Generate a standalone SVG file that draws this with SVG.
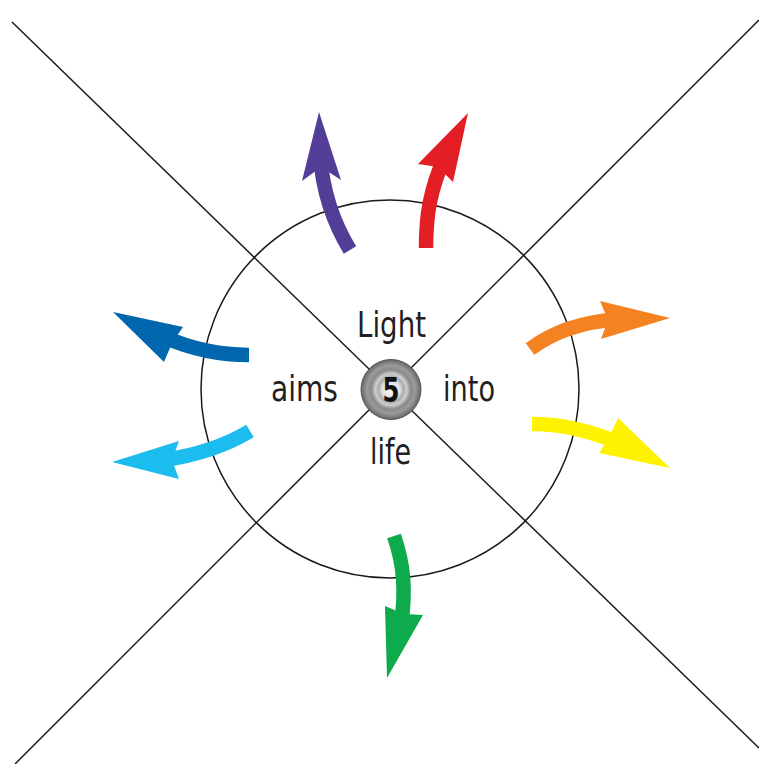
<svg xmlns="http://www.w3.org/2000/svg" width="759" height="764" viewBox="0 0 759 764">
<style>
.ln{stroke:#1a1a1a;stroke-width:1.5;fill:none}
.lbl{font-family:"Liberation Sans Narrow","DejaVu Sans Condensed","Liberation Sans",sans-serif;font-size:36px;fill:#231f20}
.shaft{fill:none;stroke-width:14.5;stroke-linecap:butt}
</style>
<defs>
<radialGradient id="ball" cx="0.5" cy="0.5" r="0.5">
<stop offset="0" stop-color="#ffffff"/>
<stop offset="0.3" stop-color="#e0e0e0"/>
<stop offset="0.42" stop-color="#aaaaaa"/>
<stop offset="0.52" stop-color="#cfcfcf"/>
<stop offset="0.66" stop-color="#8a8a8a"/>
<stop offset="0.8" stop-color="#9a9a9a"/>
<stop offset="1" stop-color="#666666"/>
</radialGradient>
</defs>
<rect width="759" height="764" fill="#ffffff"/>
<g id="connectors">
<line class="ln" x1="12" y1="22" x2="759" y2="748"/>
<line class="ln" x1="759" y1="20" x2="15" y2="764"/>
<circle class="ln" cx="390" cy="389" r="189"/>
</g>
<g id="arrow-purple">
<path class="shaft" stroke="#523d97" d="M350,250 C334,224 323,195 320,155"/>
<polygon fill="#523d97" points="319,112 341,180 321,167 302,181"/>
</g>
<g id="arrow-red">
<path class="shaft" stroke="#e31e24" d="M426,248 C426,215 430,190 445,156"/>
<polygon fill="#e31e24" points="468,113 453,182 438,167 418,164"/>
</g>
<g id="arrow-darkblue">
<path class="shaft" stroke="#0066ad" d="M249,355 C225,355 196,351 164,337"/>
<polygon fill="#0066ad" points="113,312 183,327 172,343 164,362"/>
</g>
<g id="arrow-lightblue">
<path class="shaft" stroke="#1cbcee" d="M250,431 C230,443 205,454 164,460"/>
<polygon fill="#1cbcee" points="112,462 179,441 172,460 179,479"/>
</g>
<g id="arrow-orange">
<path class="shaft" stroke="#f58220" d="M530,349 C552,333 578,322 620,319"/>
<polygon fill="#f58220" points="670,318 600,301 608,320 601,339"/>
</g>
<g id="arrow-yellow">
<path class="shaft" stroke="#fff200" d="M532,424 C560,424 590,430 624,445"/>
<polygon fill="#fff200" points="670,468 618,418 608,439 599,453"/>
</g>
<g id="arrow-green">
<path class="shaft" stroke="#0dab4b" d="M394,536 C404,565 406,590 401,626"/>
<polygon fill="#0dab4b" points="387,678 385,606 404,614 423,615"/>
</g>
<g id="center">
<circle cx="391" cy="389.5" r="30" fill="url(#ball)" stroke="#555" stroke-width="1"/>
<text x="391" y="402" text-anchor="middle" font-family="'Liberation Sans Narrow','DejaVu Sans Condensed','Liberation Sans',sans-serif" font-weight="bold" font-size="34" fill="#111" textLength="17" lengthAdjust="spacingAndGlyphs">5</text>
</g>
<g id="labels">
<text class="lbl" x="357" y="337" textLength="69" lengthAdjust="spacingAndGlyphs">Light</text>
<text class="lbl" x="271" y="401" textLength="67" lengthAdjust="spacingAndGlyphs">aims</text>
<text class="lbl" x="443" y="401" textLength="52" lengthAdjust="spacingAndGlyphs">into</text>
<text class="lbl" x="370" y="464" textLength="41" lengthAdjust="spacingAndGlyphs">life</text>
</g>
</svg>
